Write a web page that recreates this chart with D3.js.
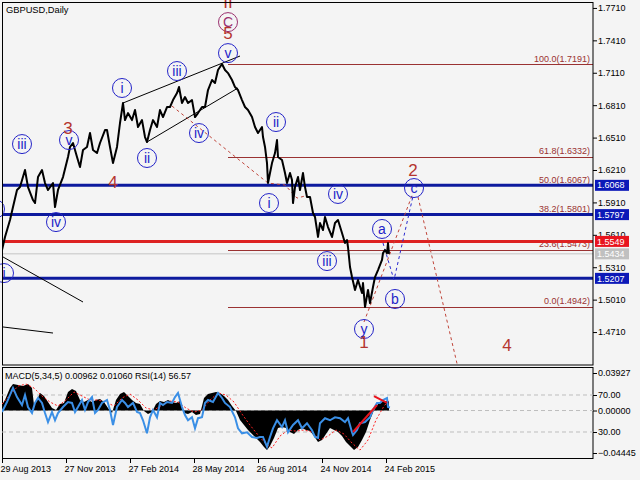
<!DOCTYPE html>
<html><head><meta charset="utf-8">
<script src="https://cdnjs.cloudflare.com/ajax/libs/d3/7.8.5/d3.min.js"></script>
<style>
body{margin:0;background:#f4f4f4}
svg{display:block}
text{font-family:"Liberation Sans",Arial,sans-serif}
</style>
</head><body>
<svg id="c" width="640" height="480"></svg>
<script>
// ---------- DATA ----------
const title = "GBPUSD,Daily";
const dateTickBars = [0,64,128,192,256,320,384];
const dateTickLabels = ["29 Aug 2013","27 Nov 2013","27 Feb 2014","28 May 2014","26 Aug 2014","24 Nov 2014","24 Feb 2015"];
const priceTicks = [1.7710,1.7410,1.7110,1.6810,1.6510,1.6210,1.5910,1.5610,1.5310,1.5010,1.4710];

const priceBars = [0,3,8,11,15,18,23,26,31,33,36,40,43,46,51,53,56,61,66,68,71,75,78,81,85,88,91,95,98,103,105,108,111,115,118,121,123,126,130,133,136,140,143,145,148,151,155,158,161,165,168,171,175,177,180,183,186,190,193,196,200,203,206,210,213,216,220,223,226,230,233,236,240,243,246,250,253,256,258,260,261,263,265,266,268,270,273,275,276,280,283,285,288,290,291,293,296,298,301,303,305,308,311,313,315,316,318,321,323,326,330,333,336,340,343,345,346,348,350,353,356,360,361,363,366,368,371,373,376,380,381,383,385,386,387];
const closePrices = [1.5469,1.5590,1.5747,1.5867,1.6025,1.6052,1.6210,1.6052,1.5932,1.5904,
1.6145,1.6210,1.6089,1.6025,1.6089,1.5867,1.6025,1.6145,1.6330,1.6423,
1.6460,1.6330,1.6237,1.6395,1.6423,1.6552,1.6395,1.6367,1.6460,1.6580,
1.6580,1.6423,1.6274,1.6423,1.6645,1.6830,1.6672,1.6737,1.6672,1.6765,
1.6608,1.6672,1.6515,1.6469,1.6580,1.6672,1.6608,1.6765,1.6700,1.6793,
1.6793,1.6857,1.6922,1.6978,1.6830,1.6885,1.6830,1.6857,1.6700,1.6737,
1.6793,1.6793,1.6950,1.7043,1.7015,1.7135,1.7191,1.7135,1.7107,1.7043,
1.6978,1.6950,1.6857,1.6793,1.6765,1.6700,1.6608,1.6552,1.6580,1.6608,
1.6515,1.6423,1.6274,1.6089,1.6182,1.6274,1.6367,1.6487,1.6330,1.6302,
1.6182,1.6089,1.6182,1.6117,1.5904,1.6052,1.6145,1.6025,1.6182,1.6052,
1.5960,1.5960,1.5812,1.5775,1.5654,1.5590,1.5719,1.5654,1.5775,1.5682,
1.5590,1.5719,1.5747,1.5627,1.5534,1.5562,1.5497,1.5312,1.5219,1.5099,
1.5192,1.5071,1.5164,1.4942,1.5099,1.4979,1.5127,1.5219,1.5284,1.5377,
1.5441,1.5469,1.5441,1.5534,1.5434];

const fibLevels = ["100.0","61.8","50.0","38.2","23.6","0.0"];
const fibPrices = [1.7191,1.6332,1.6067,1.5801,1.5473,1.4942];
const fibStartBar = 226;
const blueLevels = [1.6068,1.5797,1.5207];
const redLevels = [1.5549];
const grayLevels = [1.5434];

// circled wave labels [bar, price, text]
const blueWaves = [[20,1.6450,"iii"],[67,1.6487,"v"],[54,1.5728,"iv"],[120,1.6969,"i"],[145,1.6321,"ii"],
 [175,1.7126,"iii"],[197,1.6552,"iv"],[226,1.7292,"v"],[-7,1.5849,"i"],[2,1.5256,"i"],
 [274,1.6654,"ii"],[267,1.5904,"i"],[336,1.5988,"iv"],[412,1.6043,"c"],[380,1.5664,"a"],
 [325,1.5367,"iii"],[393,1.5016,"b"],[362,1.4738,"y"]];
const purpleWaves = [[226,1.7579,"C"]];
const redWaves = [[226,1.7770,"II"],[226,1.7478,"5"],[66,1.6598,"3"],[111,1.6099,"4"],[411,1.6210,"2"],[362,1.4618,"1"],[505,1.4590,"4"]];

// trend / projection lines [[bar,price],...]
const blackLines = [[[121,1.6830],[238,1.7265]],[[145,1.6469],[236,1.6969]],[[1,1.5405],[81,1.4988]],[[1,1.4757],[51,1.4701]]];
const brownDashLines = [[[170,1.6802],[266,1.6089],[283,1.6071],[295,1.5950],[303,1.5969]],[[362,1.4803],[411,1.5997]],[[416,1.5960],[458,1.4300]]];
const blueDashLines = [[[381,1.5534],[392,1.5192],[411,1.5969]]];

// indicator
const indicatorLabel = "MACD(5,34,5) 0.00962 0.01060 RSI(14) 56.57";
const histBars = [0,3,8,11,16,21,26,30,32,35,38,42,46,50,54,58,62,66,70,74,78,82,86,90,94,98,102,106,110,114,118,122,126,130,134,138,142,146,150,154,158,162,166,170,174,178,182,186,190,194,198,202,206,210,214,218,222,226,230,234,238,242,246,250,254,258,262,265,268,272,276,280,284,288,292,296,300,304,308,312,316,320,324,328,332,336,340,344,348,352,356,360,364,368,372,376,380,384,387];
const histValues = [0.0058,0.0110,0.0235,0.0277,0.0267,0.0256,0.0277,0.0235,0.0058,0.0110,
0.0183,0.0152,0.0089,0.0026,0.0005,0.0068,0.0078,0.0194,0.0225,0.0204,
0.0110,0.0089,0.0110,0.0089,0.0110,0.0120,0.0089,0.0026,-0.0026,0.0110,
0.0173,0.0194,0.0152,0.0110,0.0078,0.0068,-0.0005,-0.0037,-0.0016,0.0068,
0.0099,0.0089,0.0110,0.0089,0.0078,0.0099,-0.0026,-0.0037,-0.0016,-0.0047,
-0.0037,0.0131,0.0173,0.0183,0.0194,0.0183,0.0152,0.0110,0.0047,-0.0005,
-0.0099,-0.0152,-0.0204,-0.0246,-0.0288,-0.0330,-0.0382,-0.0414,-0.0372,-0.0288,
-0.0183,-0.0173,-0.0183,-0.0225,-0.0246,-0.0204,-0.0183,-0.0204,-0.0215,-0.0267,
-0.0330,-0.0309,-0.0246,-0.0183,-0.0204,-0.0225,-0.0267,-0.0330,-0.0372,-0.0414,
-0.0382,-0.0309,-0.0225,-0.0099,0.0005,0.0068,0.0089,0.0099,0.0096];
const signalBars = [0,8,16,24,32,40,48,56,64,72,80,88,96,104,112,120,128,136,144,152,160,168,176,184,192,200,208,216,224,232,240,248,256,264,270,278,286,294,302,310,318,326,334,342,350,358,366,374,382,387];
const signalValues = [0.0068,0.0162,0.0256,0.0277,0.0235,0.0152,0.0089,0.0047,0.0110,0.0194,0.0152,0.0110,0.0110,0.0089,0.0047,0.0131,0.0173,0.0110,0.0026,0.0005,0.0058,0.0099,0.0089,0.0026,-0.0016,0.0005,0.0110,0.0183,0.0162,0.0089,-0.0037,-0.0152,-0.0256,-0.0351,-0.0392,-0.0267,-0.0204,-0.0215,-0.0204,-0.0225,-0.0309,-0.0267,-0.0204,-0.0246,-0.0340,-0.0414,-0.0309,-0.0099,0.0047,0.0106];
const rsiBars = [0,5,11,15,20,23,26,30,33,36,40,43,46,50,53,56,61,66,70,73,76,80,83,86,90,93,96,100,105,108,111,115,120,123,126,131,135,138,141,145,148,151,155,158,161,165,170,173,176,180,183,186,190,193,196,200,203,206,211,216,220,223,228,233,236,240,245,250,255,258,261,265,268,271,275,280,283,286,291,296,300,305,310,313,316,318,323,328,333,338,343,346,350,351,355,358,363,368,371,375,378,381,385,386,388];
const rsiValues = [51.6,62.4,77.6,67.8,59.2,70.0,57.0,50.5,61.4,66.8,61.4,50.5,40.8,51.6,42.7,50.5,57.0,62.4,61.4,51.6,57.0,64.6,53.8,62.4,67.8,50.5,53.8,61.4,64.6,53.8,37.6,57.0,64.6,61.4,57.0,61.4,51.6,50.5,42.7,28.6,45.9,53.8,45.9,61.4,59.2,62.4,61.4,67.8,72.2,57.0,48.4,42.7,45.9,34.0,44.9,45.9,61.4,64.6,62.4,72.2,66.8,61.4,57.0,45.9,34.0,28.6,29.7,24.6,23.5,24.6,24.6,14.0,24.6,34.0,42.7,35.4,42.7,29.7,37.6,42.7,34.0,39.5,31.9,24.6,23.5,39.5,44.9,42.7,45.9,44.9,40.8,44.9,29.7,26.8,32.2,39.5,40.8,45.9,53.8,61.4,61.4,64.6,66.8,57.0,56.6];
const rsiDivergence = [[[351,30.0],[375,59.2]],[[372,68.9],[385,61.4]]];
const macdTicks = [0.03927,0.0,-0.04445];
const rsiTicks = [70,30];

// ---------- DRAW ----------
const svg = d3.select("#c");
svg.append("rect").attr("width",640).attr("height",480).attr("fill","#f4f4f4");
const defs = svg.append("defs");
defs.append("clipPath").attr("id","mainClip").append("rect").attr("x",2).attr("y",2).attr("width",591).attr("height",363);
defs.append("clipPath").attr("id","indClip").append("rect").attr("x",2).attr("y",367).attr("width",591).attr("height",92);

const x = d3.scaleLinear().domain([0,591]).range([2,593]);
const y = d3.scaleLinear().domain([1.4405,1.7765]).range([365,2]);
const macdY = d3.scaleLinear().domain([-0.04445,0.03927]).range([453,373]);
const rsiY = d3.scaleLinear().domain([30,70]).range([432,395]);

const BLUE="#0d1a9e", RED="#dd2222", FIB="#9a3232", WAVE="#2323c8", NUM="#b5352f", PURPLE="#9a2f6e";

const main = svg.append("g").attr("clip-path","url(#mainClip)");
// gray
main.selectAll(".gl").data(grayLevels).join("line").attr("x1",2).attr("x2",593)
  .attr("y1",d=>y(d)).attr("y2",d=>y(d)).attr("stroke","#c4c4c4").attr("stroke-width",1);
// fib
main.selectAll(".fl").data(fibPrices).join("line").attr("x1",x(fibStartBar)).attr("x2",593)
  .attr("y1",d=>Math.round(y(d))+0.5).attr("y2",d=>Math.round(y(d))+0.5).attr("stroke",FIB).attr("stroke-width",1);
main.selectAll(".ft").data(fibPrices).join("text").attr("x",590).attr("y",d=>y(d)-2.5)
  .attr("text-anchor","end").attr("font-size",9).attr("fill",FIB)
  .text((d,i)=>fibLevels[i]+"("+d.toFixed(4)+")");
// blue & red levels
main.selectAll(".bl").data(blueLevels).join("line").attr("x1",2).attr("x2",593)
  .attr("y1",d=>y(d)).attr("y2",d=>y(d)).attr("stroke",BLUE).attr("stroke-width",3);
main.selectAll(".rl").data(redLevels).join("line").attr("x1",2).attr("x2",593)
  .attr("y1",d=>y(d)).attr("y2",d=>y(d)).attr("stroke",RED).attr("stroke-width",3);

const lineGen = d3.line().x(d=>x(d[0])).y(d=>y(d[1]));
main.selectAll(".blk").data(blackLines).join("path").attr("d",lineGen).attr("fill","none").attr("stroke","#000").attr("stroke-width",1);
main.selectAll(".bd").data(brownDashLines).join("path").attr("d",lineGen).attr("fill","none").attr("stroke","#c0453a").attr("stroke-width",1).attr("stroke-dasharray","3,3");
main.selectAll(".bld").data(blueDashLines).join("path").attr("d",lineGen).attr("fill","none").attr("stroke","#2a2ad0").attr("stroke-width",1).attr("stroke-dasharray","3,3");

// price line
const priceData = priceBars.map((b,i)=>[b,closePrices[i]]);
main.append("path").datum(priceData).attr("d",lineGen).attr("fill","none").attr("stroke","#000").attr("stroke-width",2).attr("stroke-linejoin","round");

// wave labels
const lab = svg.append("g");
function circled(data,color){
  const g = lab.selectAll(null).data(data).join("g").attr("transform",d=>`translate(${x(d[0])},${y(d[1])})`);
  g.append("circle").attr("r",9.5).attr("fill","none").attr("stroke",color).attr("stroke-width",1);
  g.append("text").attr("text-anchor","middle").attr("dy","0.36em").attr("font-size",14).attr("fill",color).text(d=>d[2]);
}
circled(blueWaves,WAVE);
circled(purpleWaves,PURPLE);
lab.selectAll(null).data(redWaves).join("text").attr("x",d=>x(d[0])).attr("y",d=>y(d[1]))
  .attr("text-anchor","middle").attr("dy","0.36em").attr("font-size",17).attr("fill",NUM).text(d=>d[2]);

// title
svg.append("text").attr("x",6).attr("y",13).attr("font-size",9.3).attr("fill","#000").text(title);

// frames
svg.append("rect").attr("x",2.5).attr("y",2.5).attr("width",590.5).attr("height",362.5).attr("fill","none").attr("stroke","#000");
svg.append("rect").attr("x",2.5).attr("y",367.5).attr("width",590.5).attr("height",91).attr("fill","none").attr("stroke","#000");

// price axis
const ax = svg.append("g").attr("transform","translate(593,0)")
  .call(d3.axisRight(y).tickValues(priceTicks).tickSize(4).tickPadding(1).tickFormat(d3.format(".4f")));
ax.select(".domain").remove();
ax.selectAll("text").attr("font-size",9).attr("font-family","Liberation Sans, Arial, sans-serif").attr("fill","#000");
ax.selectAll("line").attr("stroke","#000");

// tags
const tags = [].concat(blueLevels.map(v=>[v,"#0c19b8","#fff"]),redLevels.map(v=>[v,"#e8141e","#fff"]),grayLevels.map(v=>[v,"#c0c0c0","#fff"]));
const tg = svg.selectAll(".tag").data(tags).join("g");
tg.append("rect").attr("x",595).attr("y",d=>y(d[0])-5.5).attr("width",34).attr("height",11).attr("fill",d=>d[1]);
tg.append("text").attr("x",597).attr("y",d=>y(d[0])).attr("dy","0.35em").attr("font-size",9).attr("fill",d=>d[2]).text(d=>d[0].toFixed(4));

// ---------- indicator ----------
const ind = svg.append("g").attr("clip-path","url(#indClip)");
[rsiY(70), macdY(0), rsiY(30)].forEach(v=>{
  ind.append("line").attr("x1",2).attr("x2",593).attr("y1",v).attr("y2",v).attr("stroke","#bdbdbd").attr("stroke-dasharray","4,3");
});
const histData = histBars.map((b,i)=>[b,histValues[i]]);
ind.append("path").datum(histData).attr("d",d3.area().x(d=>x(d[0])).y0(macdY(0)).y1(d=>macdY(d[1])))
  .attr("fill","#000");
const sigData = signalBars.map((b,i)=>[b,signalValues[i]]);
ind.append("path").datum(sigData).attr("d",d3.line().x(d=>x(d[0])).y(d=>macdY(d[1])))
  .attr("fill","none").attr("stroke","#ff2020").attr("stroke-width",1).attr("stroke-dasharray","2,2");
const rsiData = rsiBars.map((b,i)=>[b,rsiValues[i]]);
ind.append("path").datum(rsiData).attr("d",d3.line().x(d=>x(d[0])).y(d=>rsiY(d[1])))
  .attr("fill","none").attr("stroke","#3a8fe6").attr("stroke-width",2);
ind.selectAll(".dv").data(rsiDivergence).join("path").attr("d",d3.line().x(d=>x(d[0])).y(d=>rsiY(d[1])))
  .attr("fill","none").attr("stroke","#e8141e").attr("stroke-width",2);

svg.append("text").attr("x",5).attr("y",379).attr("font-size",9).attr("fill","#000").text(indicatorLabel);

const ax2 = svg.append("g").attr("transform","translate(593,0)")
  .call(d3.axisRight(macdY).tickValues(macdTicks).tickSize(4).tickPadding(1).tickFormat(d3.format(".5f")));
ax2.select(".domain").remove();
const ax3 = svg.append("g").attr("transform","translate(593,0)")
  .call(d3.axisRight(rsiY).tickValues(rsiTicks).tickSize(4).tickPadding(1).tickFormat(d3.format(".2f")));
ax3.select(".domain").remove();
[ax2,ax3].forEach(a=>{a.selectAll("text").attr("font-size",9).attr("font-family","Liberation Sans, Arial, sans-serif").attr("fill","#000");a.selectAll("line").attr("stroke","#000");});

// date axis
const ax4 = svg.append("g").attr("transform","translate(0,459)")
  .call(d3.axisBottom(x).tickValues(dateTickBars).tickSize(4).tickFormat((d,i)=>dateTickLabels[i]));
ax4.select(".domain").remove();
ax4.selectAll("text").attr("font-size",9).attr("font-family","Liberation Sans, Arial, sans-serif").attr("fill","#000")
  .attr("text-anchor","start").attr("dx","-2");
ax4.selectAll("line").attr("stroke","#000");
</script>
</body></html>
